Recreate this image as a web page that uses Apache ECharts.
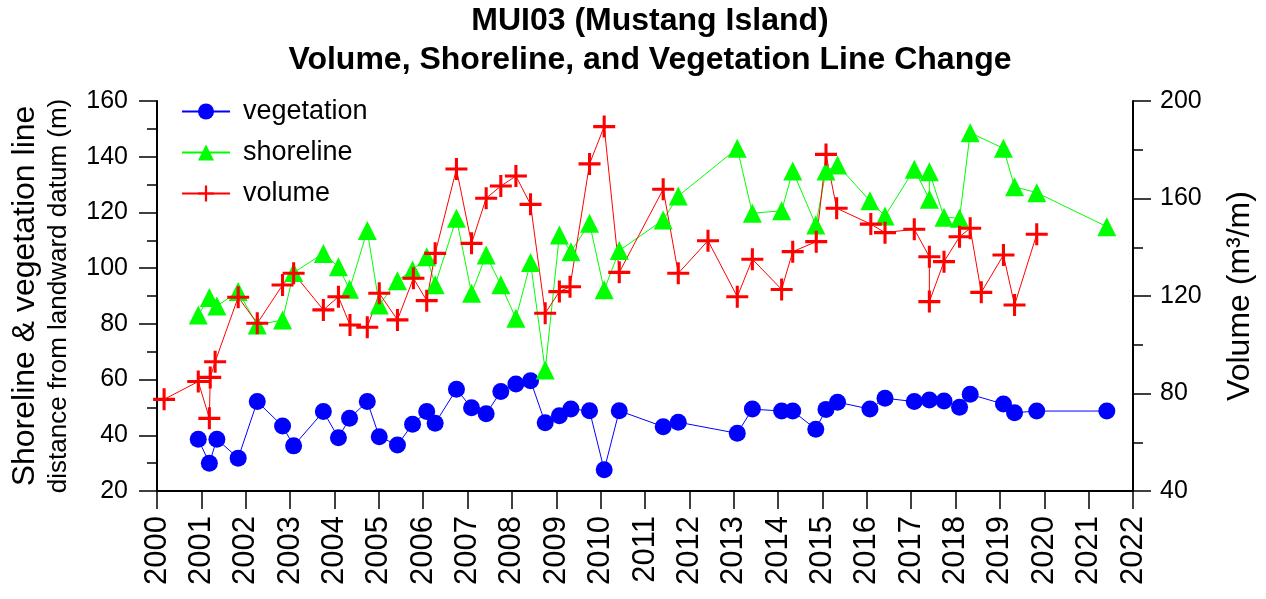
<!DOCTYPE html>
<html>
<head>
<meta charset="utf-8">
<script src="https://cdn.jsdelivr.net/npm/echarts@6/dist/echarts.min.js"></script>
<style>html,body{margin:0;background:#fff}#chart{width:1266px;height:599px}</style>
</head>
<body>
<div id="chart"></div>
<script>
// survey dates (decimal years) and values
var vegDates = [2000.93, 2001.18, 2001.35, 2001.83, 2002.26, 2002.83, 2003.08, 2003.75, 2004.09, 2004.34,
    2004.74, 2005.01, 2005.42, 2005.76, 2006.08, 2006.27, 2006.75, 2007.09, 2007.42, 2007.75,
    2008.09, 2008.42, 2008.75, 2009.07, 2009.33, 2009.75, 2010.08, 2010.42, 2011.41, 2011.75,
    2013.08, 2013.42, 2014.08, 2014.33, 2014.85, 2015.08, 2015.34, 2016.07, 2016.41, 2017.07,
    2017.41, 2017.74, 2018.09, 2018.33, 2019.08, 2019.33, 2019.83, 2021.41];
var vegValues = [38.6, 30, 38.6, 31.8, 52.1, 43.3, 36.2, 48.5, 39.1, 46.1,
    52.1, 39.5, 36.5, 44, 48.5, 44.3, 56.5, 49.9, 47.7, 55.7,
    58.4, 59.6, 44.5, 47, 49.4, 48.8, 27.6, 48.8, 43.1, 44.7,
    40.7, 49.4, 48.7, 48.7, 42.2, 49.3, 51.9, 49.4, 53.3, 52.1,
    52.7, 52.3, 50.1, 54.7, 51.2, 48.1, 48.7, 48.7];

var shoreDates = [2000.93, 2001.18, 2001.35, 2001.83, 2002.26, 2002.83, 2003.08, 2003.75, 2004.09, 2004.34,
    2004.74, 2005.01, 2005.42, 2005.76, 2006.08, 2006.27, 2006.75, 2007.09, 2007.42, 2007.75,
    2008.09, 2008.42, 2008.75, 2009.07, 2009.33, 2009.75, 2010.08, 2010.42, 2011.41, 2011.75,
    2013.08, 2013.42, 2014.08, 2014.33, 2014.85, 2015.08, 2015.34, 2016.07, 2016.41, 2017.07,
    2017.41, 2017.41, 2017.74, 2018.09, 2018.33, 2019.08, 2019.33, 2019.83, 2021.41];
var shoreValues = [83.2, 89.5, 86.4, 91.6, 79.6, 81.4, 98.4, 105.3, 100.5, 92.4,
    113.5, 86.8, 95.5, 99.3, 104.1, 94, 117.9, 91, 104.7, 94,
    82, 102, 63.4, 111.9, 105.9, 116.1, 92.2, 106.3, 117.3, 125.9,
    143, 119.7, 120.6, 134.9, 115.5, 134.9, 137, 124.2, 118.7, 135.5,
    124.7, 134.6, 118.3, 117.9, 148.6, 143, 129.2, 127.1, 114.9];

var volDates = [2000.16, 2000.93, 2001.18, 2001.2, 2001.31, 2001.83, 2002.26, 2002.83, 2003.08, 2003.75,
    2004.09, 2004.35, 2004.74, 2005.01, 2005.42, 2005.78, 2006.08, 2006.27, 2006.75, 2007.09,
    2007.42, 2007.75, 2008.09, 2008.42, 2008.75, 2009.07, 2009.31, 2009.75, 2010.08, 2010.42,
    2011.41, 2011.75, 2012.42, 2013.08, 2013.42, 2014.08, 2014.33, 2014.86, 2015.08, 2015.32,
    2016.09, 2016.41, 2017.07, 2017.41, 2017.41, 2017.74, 2018.09, 2018.33, 2018.58, 2019.08,
    2019.33, 2019.83];
var volValues = [77.6, 84.9, 69.8, 86.6, 93, 119.5, 108.8, 124.5, 129.3, 114.3,
    119.7, 108.1, 107.2, 121.1, 110.2, 127.3, 118.1, 137.5, 172.1, 141.6,
    160.1, 165.1, 169.2, 157.6, 112.9, 121.8, 123.8, 174.2, 189.5, 129.7,
    163.8, 129.3, 142.7, 119.7, 135.1, 122.7, 138.2, 142.3, 178.1, 156,
    149.5, 146, 147.4, 136.1, 117.7, 134.1, 144.3, 147.8, 121.5, 136.8,
    116.3, 145.3];

function pairs(xs, ys) {
    return xs.map(function (x, i) { return [x, ys[i]]; });
}

// plus-shaped marker
var plus = 'path://M-0.14,-1 L0.14,-1 L0.14,-0.14 L1,-0.14 L1,0.14 L0.14,0.14 L0.14,1 L-0.14,1 L-0.14,0.14 L-1,0.14 L-1,-0.14 L-0.14,-0.14 Z';
var font = 'Liberation Sans, Arial, sans-serif';

var myChart = echarts.init(document.getElementById('chart'));
myChart.setOption({
    animation: false,
    textStyle: {fontFamily: font, color: '#000'},
    title: {
        text: 'MUI03 (Mustang Island)\nVolume, Shoreline, and Vegetation Line Change',
        left: 645,
        top: -3,
        textAlign: 'center',
        textStyle: {fontFamily: font, fontSize: 32, fontWeight: 'bold', color: '#000', lineHeight: 39}
    },
    legend: {
        orient: 'vertical',
        left: 176,
        top: 93,
        itemWidth: 48,
        itemHeight: 20,
        itemGap: 14,
        textStyle: {fontFamily: font, fontSize: 27, color: '#000', padding: [0, 0, 0, 8]},
        data: ['vegetation', 'shoreline', 'volume']
    },
    grid: {left: 157, right: 133, top: 101, bottom: 108},
    xAxis: {
        type: 'value',
        min: 2000,
        max: 2022,
        interval: 1,
        axisLine: {lineStyle: {color: '#000', width: 2}},
        axisTick: {length: 18, lineStyle: {color: '#000', width: 1.5}},
        splitLine: {show: false},
        axisLabel: {
            rotate: 90, fontSize: 31, color: '#000', margin: 25, fontFamily: font,
            formatter: function (v) { return String(v); }
        }
    },
    yAxis: [
        {
            type: 'value',
            position: 'left',
            min: 20,
            max: 160,
            interval: 20,
            name: '{a|Shoreline & vegetation line}\n{b|distance from landward datum (m)}',
            nameLocation: 'middle',
            nameRotate: 90,
            nameGap: 83,
            nameTextStyle: {
                rich: {
                    a: {fontFamily: font, fontSize: 32, color: '#000', lineHeight: 37},
                    b: {fontFamily: font, fontSize: 26, color: '#000', lineHeight: 30}
                }
            },
            axisLine: {show: true, lineStyle: {color: '#000', width: 2}},
            axisTick: {length: 18, lineStyle: {color: '#000', width: 1.5}},
            minorTick: {show: true, splitNumber: 2, length: 10, lineStyle: {color: '#000', width: 1.5}},
            splitLine: {show: false},
            axisLabel: {fontSize: 25, color: '#000', margin: 29, fontFamily: font}
        },
        {
            type: 'value',
            position: 'right',
            min: 40,
            max: 200,
            interval: 40,
            name: 'Volume (m³/m)',
            nameLocation: 'middle',
            nameRotate: 90,
            nameGap: 91,
            nameTextStyle: {fontFamily: font, fontSize: 32, color: '#000'},
            axisLine: {show: true, lineStyle: {color: '#000', width: 2}},
            axisTick: {length: 18, lineStyle: {color: '#000', width: 1.5}},
            minorTick: {show: true, splitNumber: 2, length: 10, lineStyle: {color: '#000', width: 1.5}},
            splitLine: {show: false},
            axisLabel: {fontSize: 25, color: '#000', margin: 27, fontFamily: font}
        }
    ],
    series: [
        {
            name: 'vegetation',
            type: 'line',
            data: pairs(vegDates, vegValues),
            symbol: 'circle',
            symbolSize: 17,
            color: '#0000ff',
            lineStyle: {color: '#0000ff', width: 1},
            itemStyle: {color: '#0000ff'}
        },
        {
            name: 'shoreline',
            type: 'line',
            data: pairs(shoreDates, shoreValues),
            symbol: 'triangle',
            symbolSize: 19,
            color: '#00ff00',
            lineStyle: {color: '#00ff00', width: 1},
            itemStyle: {color: '#00ff00'}
        },
        {
            name: 'volume',
            type: 'line',
            yAxisIndex: 1,
            data: pairs(volDates, volValues),
            symbol: plus,
            symbolSize: 22,
            color: '#ff0000',
            lineStyle: {color: '#ff0000', width: 1},
            itemStyle: {color: '#ff0000'}
        }
    ]
});
</script>
</body>
</html>
